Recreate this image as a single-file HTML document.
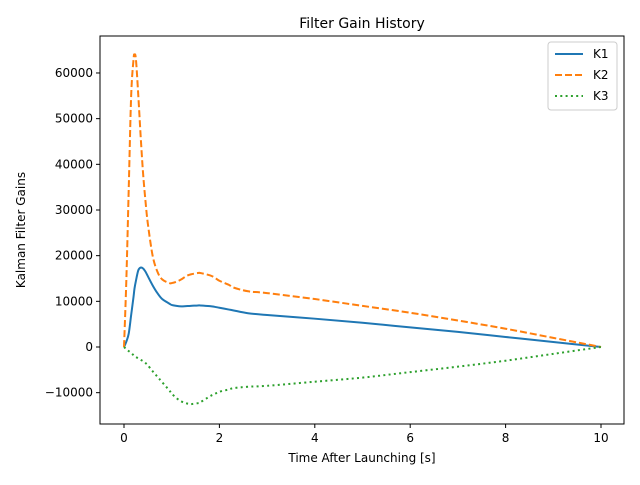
<!DOCTYPE html>
<html><head><meta charset="utf-8"><style>body{margin:0;background:#fff}svg{font-family:"DejaVu Sans","Liberation Sans",sans-serif}</style></head>
<body>
<svg id="c" width="640" height="480" xmlns="http://www.w3.org/2000/svg"></svg>
<script>
const tK = [0,0.05,0.1,0.15,0.2,0.22,0.25,0.3,0.35,0.4,0.45,0.5,0.6,0.7,0.8,0.95,1.0,1.1,1.2,1.3,1.4,1.55,1.6,1.8,1.9,2.0,2.2,2.3,2.6,3,4,5,6,7,8,9,10];
const k1 = [0,1200,3000,7000,11000,12800,14500,16800,17400,17200,16500,15500,13500,11800,10500,9500,9200,9000,8900,8950,9000,9100,9100,8950,8800,8600,8200,8000,7400,7000,6200,5300,4300,3300,2200,1100,0];
const k2 = [0,15000,35000,55000,63000,64000,63000,55000,46000,38000,32000,27000,20000,16500,14800,14000,14000,14300,14800,15500,15900,16200,16200,15700,15200,14500,13600,13000,12200,11800,10500,9000,7500,5800,4000,2000,0];
const k3 = [0,-500,-900,-1300,-1800,-2000,-2200,-2500,-2800,-3100,-3500,-4000,-5300,-6500,-7700,-9500,-10200,-11200,-11900,-12300,-12500,-12300,-12100,-10800,-10300,-9800,-9300,-9000,-8700,-8500,-7600,-6700,-5500,-4300,-3000,-1500,0];
const xTicks = [0,2,4,6,8,10];
const yTicks = [-10000,0,10000,20000,30000,40000,50000,60000];
const L=100,R=624,T=36,B=424;
const X=v=>124+v*47.7, Y=v=>347-v*0.004567;
const svg=document.getElementById('c');const NS='http://www.w3.org/2000/svg';
function mk(tag,a,txt){const e=document.createElementNS(NS,tag);for(const k in a)e.setAttribute(k,a[k]);if(txt!=null)e.textContent=txt;svg.appendChild(e);return e;}
const frame=mk('rect',{x:L,y:T,width:R-L,height:B-T,fill:'none',stroke:'#000','stroke-width':1});


xTicks.forEach(v=>{const l=mk('line',{x1:X(v),x2:X(v),y1:B,y2:B+4,stroke:'#000'});


const t=mk('text',{x:X(v),y:B+18,'text-anchor':'middle','font-size':12},String(v));

});
yTicks.forEach(v=>{const l=mk('line',{x1:L-4,x2:L,y1:Y(v),y2:Y(v),stroke:'#000'});


const t=mk('text',{x:L-7,y:Y(v)+4,'text-anchor':'end','font-size':12},v<0?'\u2212'+(-v):String(v));

});
function path(ys){const p=tK.map((t,i)=>[X(t),Y(ys[i])]);let d='M'+p[0][0]+','+p[0][1];
for(let i=0;i<p.length-1;i++){const p0=p[Math.max(0,i-1)],p1=p[i],p2=p[i+1],p3=p[Math.min(p.length-1,i+2)];
d+=` C${p1[0]+(p2[0]-p0[0])/6},${p1[1]+(p2[1]-p0[1])/6} ${p2[0]-(p3[0]-p1[0])/6},${p2[1]-(p3[1]-p1[1])/6} ${p2[0]},${p2[1]}`;}return d;}
const s1=mk('path',{d:path(k1),fill:'none',stroke:'#1f77b4','stroke-width':2});


const s2=mk('path',{d:path(k2),fill:'none',stroke:'#ff7f0e','stroke-width':2,'stroke-dasharray':'7,3'});


const s3=mk('path',{d:path(k3),fill:'none',stroke:'#2ca02c','stroke-width':2,'stroke-dasharray':'2,3.3'});


const ti=mk('text',{x:362,y:28,'text-anchor':'middle','font-size':14},'Filter Gain History');


const xl=mk('text',{x:362,y:462,'text-anchor':'middle','font-size':12},'Time After Launching [s]');


const yl=mk('text',{x:25,y:230,'text-anchor':'middle','font-size':12,transform:'rotate(-90 25 230)'},'Kalman Filter Gains');


const lg=mk('rect',{x:548,y:42,width:69,height:68,rx:3,fill:'#fff',stroke:'#ccc'});


[['K1','#1f77b4','none'],['K2','#ff7f0e','7,3'],['K3','#2ca02c','2,3.3']].forEach((e,i)=>{const y=54+i*21;
const l=mk('line',{x1:555,x2:583,y1:y,y2:y,stroke:e[1],'stroke-width':2,'stroke-dasharray':e[2]});


const t=mk('text',{x:593,y:y+4,'font-size':12},e[0]);

});
</script>
</body></html>
